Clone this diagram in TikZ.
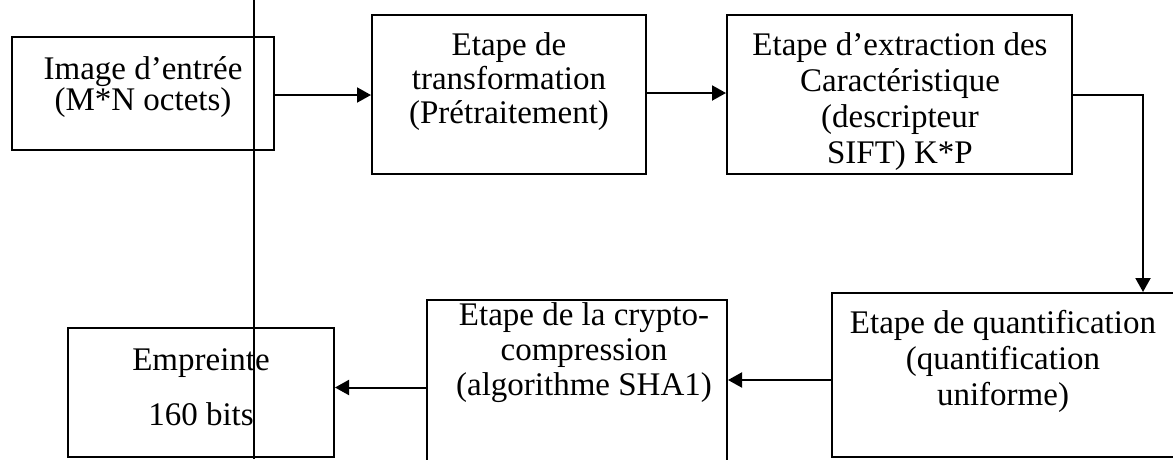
\documentclass[tikz,border=0pt]{standalone}
\usepackage{fontspec}
\setmainfont{Liberation Serif}
\usetikzlibrary{arrows.meta}
\begin{document}
\begin{tikzpicture}[x=1pt,y=-1pt,
  box/.style={draw, line width=2pt, inner sep=0pt, anchor=center},
  txt/.style={align=center, anchor=base, inner sep=0pt, font=\fontsize{33}{36}\selectfont},
  arr/.style={line width=2pt, -{Triangle[length=14pt,width=15pt]}},
  plain/.style={line width=2pt}]
\useasboundingbox (0,0) rectangle (1173,459);
\clip (0,0) rectangle (1173,459);
% boxes
\node[box, minimum width=262pt, minimum height=113pt] (b1) at (143,93.5) {};
\node[box, minimum width=274pt, minimum height=159pt] (b2) at (509,94.5) {};
\node[box, minimum width=345pt, minimum height=159pt] (b3) at (899.5,94.5) {};
\node[box, minimum width=343pt, minimum height=164pt] (b4) at (1003.5,375) {};
\node[box, minimum width=300pt, minimum height=175pt] (b5) at (577,387.5) {};
\node[box, minimum width=266pt, minimum height=129pt] (b6) at (201,392.5) {};
% texts (anchor = baseline of last line)
\node[txt, font=\fontsize{33}{31}\selectfont] (t1) at (143,110) {Image d’entrée\\(M*N octets)};
\node[txt, font=\fontsize{33}{34}\selectfont] (t2) at (509,123) {Etape de\\transformation\\(Prétraitement)};
\node[txt, font=\fontsize{33}{36}\selectfont] (t3) at (900,163) {Etape d’extraction des\\Caractéristique\\(descripteur\\SIFT) K*P};
\node[txt, font=\fontsize{33}{36}\selectfont] (t4) at (1003,405) {Etape de quantification\\(quantification\\uniforme)};
\node[txt, font=\fontsize{33}{35}\selectfont] (t5) at (584,395) {Etape de la crypto-\\compression\\(algorithme SHA1)};
\node[txt, font=\fontsize{33}{55}\selectfont] (t6) at (201,425) {Empreinte\\160 bits};
% connectors
\draw[arr] ([yshift=-1.5pt]b1.east) -- ([yshift=-1.5pt]b1.east -| b2.west);
\draw[arr] ([yshift=1.5pt]b2.east) -- ([yshift=1.5pt]b2.east -| b3.west);
\draw[arr] (b3.east) -| ([xshift=-33pt]b4.north east);
\draw[arr] ([yshift=-5pt]b4.west) -- ([yshift=-5pt]b4.west -| b5.east);
\draw[arr] (b5.west) -- (b5.west -| b6.east);
% vertical line
\coordinate (vtop) at (254,0);
\coordinate (vbot) at (254,459);
\draw[plain] (vtop) -- (vbot);
\end{tikzpicture}
\end{document}
